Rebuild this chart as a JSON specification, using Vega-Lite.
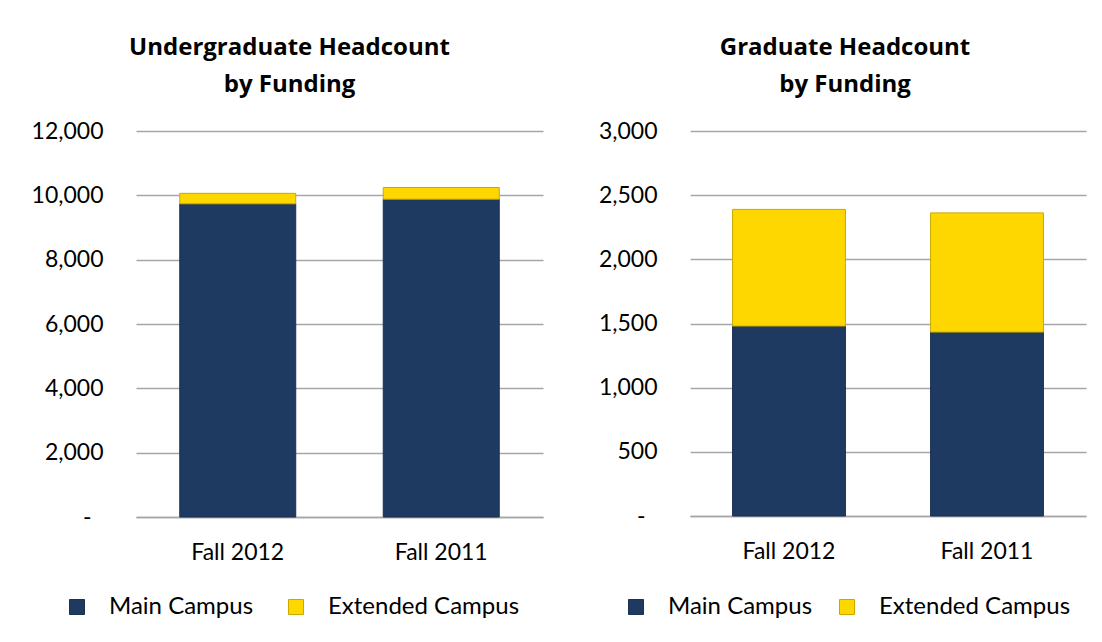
{
  "$schema": "https://vega.github.io/schema/vega-lite/v6.json",
  "background": "white",
  "padding": {"left": 31, "top": 36, "right": 10, "bottom": 5},
  "datasets": {
    "ug": [
      {"term": "Fall 2012", "funding": "Main Campus", "count": 9736},
      {"term": "Fall 2012", "funding": "Extended Campus", "count": 326},
      {"term": "Fall 2011", "funding": "Main Campus", "count": 9882},
      {"term": "Fall 2011", "funding": "Extended Campus", "count": 361}
    ],
    "grad": [
      {"term": "Fall 2012", "funding": "Main Campus", "count": 1480},
      {"term": "Fall 2012", "funding": "Extended Campus", "count": 909},
      {"term": "Fall 2011", "funding": "Main Campus", "count": 1433},
      {"term": "Fall 2011", "funding": "Extended Campus", "count": 929}
    ]
  },
  "config": {
    "font": "Lato",
    "view": {"stroke": null},
    "axis": {
      "labelFont": "Lato",
      "labelFontSize": 23,
      "labelColor": "#000000",
      "ticks": false,
      "title": null,
      "gridColor": "#A6A6A6",
      "gridWidth": 1.5,
      "domainColor": "#A6A6A6",
      "domainWidth": 1.5
    },
    "title": {
      "font": "Open Sans",
      "fontSize": 24,
      "fontWeight": "bold",
      "color": "#000000",
      "lineHeight": 37,
      "anchor": "middle",
      "offset": 23
    },
    "legend": {
      "orient": "none",
      "direction": "horizontal",
      "title": null,
      "symbolType": "square",
      "symbolSize": 225,
      "symbolStrokeWidth": 1,
      "labelFont": "Lato",
      "labelFontSize": 24,
      "labelColor": "#000000",
      "labelLimit": 400,
      "labelOffset": 20,
      "columnPadding": 30,
      "padding": 0
    }
  },
  "spacing": 55,
  "hconcat": [
    {
      "data": {"name": "ug"},
      "width": 407,
      "height": 386,
      "title": {"text": ["Undergraduate Headcount", "by Funding"], "dx": -50},
      "mark": {"type": "bar", "strokeWidth": 1},
      "encoding": {
        "x": {
          "field": "term", "type": "nominal", "sort": ["Fall 2012", "Fall 2011"],
          "scale": {"paddingInner": 0.43, "paddingOuter": 0.215},
          "axis": {"labelAngle": 0, "labelPadding": 24, "domain": true, "grid": false}
        },
        "y": {
          "field": "count", "type": "quantitative", "stack": "zero",
          "scale": {"domain": [0, 12000]},
          "axis": {
            "values": [0, 2000, 4000, 6000, 8000, 10000, 12000],
            "grid": true, "domain": false,
            "labelPadding": {"condition": {"test": "datum.value == 0", "value": 45}, "value": 33},
            "labelExpr": "datum.value == 0 ? '-' : format(datum.value, ',')"
          }
        },
        "color": {
          "field": "funding", "type": "nominal",
          "sort": ["Main Campus", "Extended Campus"],
          "scale": {"domain": ["Main Campus", "Extended Campus"], "range": ["#1F3A60", "#FFD700"]},
          "legend": {"legendX": -71, "legendY": 464}
        },
        "stroke": {
          "field": "funding", "type": "nominal",
          "sort": ["Main Campus", "Extended Campus"],
          "scale": {"domain": ["Main Campus", "Extended Campus"], "range": ["#1A3152", "#C9A800"]},
          "legend": {"legendX": -71, "legendY": 464}
        }
      }
    },
    {
      "data": {"name": "grad"},
      "width": 396,
      "height": 385,
      "title": {"text": ["Graduate Headcount", "by Funding"], "dx": -43},
      "mark": {"type": "bar", "strokeWidth": 1},
      "encoding": {
        "x": {
          "field": "term", "type": "nominal", "sort": ["Fall 2012", "Fall 2011"],
          "scale": {"paddingInner": 0.43, "paddingOuter": 0.215},
          "axis": {"labelAngle": 0, "labelPadding": 24, "domain": true, "grid": false}
        },
        "y": {
          "field": "count", "type": "quantitative", "stack": "zero",
          "scale": {"domain": [0, 3000]},
          "axis": {
            "values": [0, 500, 1000, 1500, 2000, 2500, 3000],
            "grid": true, "domain": false,
            "labelPadding": {"condition": {"test": "datum.value == 0", "value": 45}, "value": 33},
            "labelExpr": "datum.value == 0 ? '-' : format(datum.value, ',')"
          }
        },
        "color": {
          "field": "funding", "type": "nominal",
          "sort": ["Main Campus", "Extended Campus"],
          "scale": {"domain": ["Main Campus", "Extended Campus"], "range": ["#1F3A60", "#FFD700"]},
          "legend": {"legendX": -66, "legendY": 464, "columnPadding": 22}
        },
        "stroke": {
          "field": "funding", "type": "nominal",
          "sort": ["Main Campus", "Extended Campus"],
          "scale": {"domain": ["Main Campus", "Extended Campus"], "range": ["#1A3152", "#C9A800"]},
          "legend": {"legendX": -66, "legendY": 464, "columnPadding": 22}
        }
      }
    }
  ],
  "resolve": {
    "scale": {"color": "independent", "stroke": "independent", "y": "independent"},
    "legend": {"color": "independent", "stroke": "independent"}
  }
}
